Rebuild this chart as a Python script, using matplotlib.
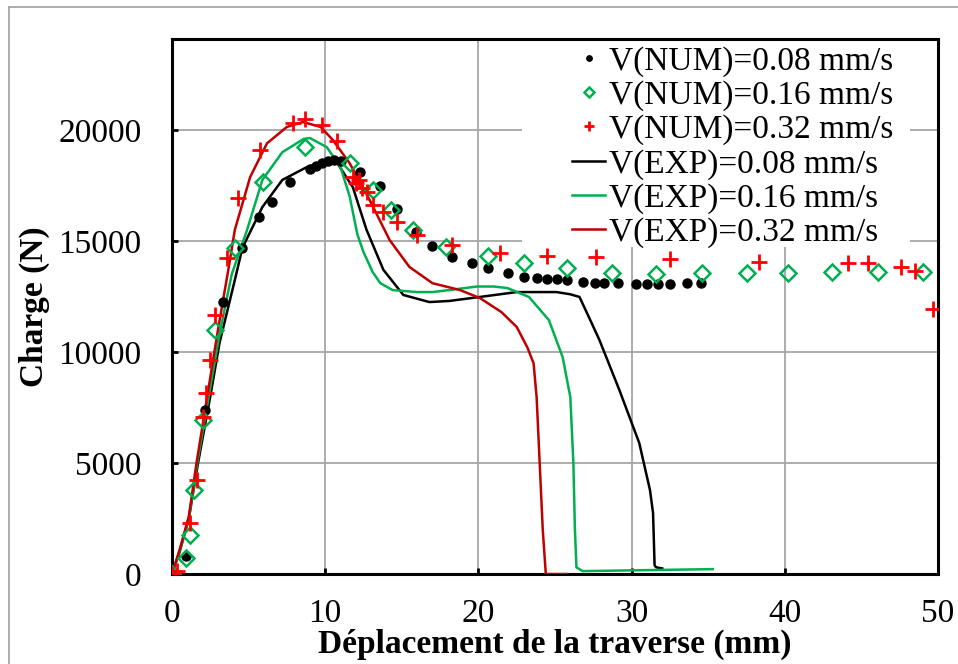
import matplotlib
matplotlib.use("Agg")
import matplotlib.pyplot as plt
from matplotlib.patches import Rectangle
from matplotlib.lines import Line2D

plt.rcParams['font.family'] = ['Liberation Serif', 'DejaVu Serif']

# ---------------- data ----------------
num008_x = [0, 0.9, 2.15, 3.3, 4.6, 5.7, 6.5, 7.7, 9.0, 9.4, 9.8, 10.2, 10.6, 11.0,
            12.3, 13.6, 14.7, 15.9, 17.0, 18.3, 19.6, 20.6, 21.9, 23.0, 23.8, 24.5,
            25.1, 25.8, 26.8, 27.6, 28.2, 29.1, 30.3, 31.0, 31.7, 32.5, 33.6, 34.5]
num008_y = [0, 810, 7390, 12250, 14680, 16080, 16760, 17650, 18240, 18400, 18500, 18600,
            18650, 18600, 18100, 17480, 16440, 15400, 14770, 14280, 14000, 13780, 13560,
            13380, 13330, 13300, 13300, 13250, 13170, 13130, 13110, 13110, 13060, 13060,
            13080, 13080, 13100, 13100]

num016_x = [0, 0.9, 1.15, 1.45, 2.0, 2.8, 4.1, 5.95, 8.7, 11.6, 13.1, 14.3, 15.7, 17.9,
            20.6, 23.0, 25.8, 28.7, 31.6, 34.6, 37.5, 40.2, 43.1, 46.1, 49.0]
num016_y = [0, 700, 1750, 3780, 6940, 10990, 14680, 17650, 19240, 18500, 17300, 16400,
            15500, 14730, 14320, 14000, 13780, 13560, 13500, 13560, 13560, 13560, 13600,
            13600, 13600]

num032_x = [0, 0.35, 1.2, 1.6, 2.0, 2.2, 2.5, 2.8, 3.6, 4.3, 5.74, 7.9, 8.7, 9.8, 10.8,
            11.8, 12.0, 12.2, 12.4, 12.7, 13.1, 13.8, 14.7, 16.0, 18.3, 21.4, 24.5, 27.7,
            32.5, 38.3, 44.1, 45.4, 47.6, 48.5, 49.7]
num032_y = [0, 150, 2300, 4230, 7070, 8150, 9640, 11670, 14230, 16930, 19100, 20320,
            20500, 20220, 19500, 17900, 17600, 17750, 17400, 17200, 16620, 16300, 15850,
            15270, 14820, 14450, 14320, 14280, 14190, 14050, 14000, 14000, 13830, 13650,
            11940]

exp008_x = [0, 0.5, 1.1, 1.7, 2.5, 3.1, 4.1, 4.6, 5.9, 7.2, 8.8, 9.9, 10.8, 11.8, 12.7,
            13.8, 15.1, 16.8, 18.1, 20.1, 22.5, 25.1, 26.0, 26.6, 27.3, 27.9, 29.2, 30.5,
            31.2, 31.4, 31.5, 31.6, 32.0]
exp008_y = [0, 1000, 2500, 5000, 8000, 10400, 13240, 14700, 16530, 17750, 18330, 18560,
            18500, 17430, 15500, 13700, 12570, 12250, 12300, 12480, 12700, 12700, 12600,
            12480, 11440, 10540, 8290, 5900, 3780, 2750, 400, 300, 250]

exp016_x = [0, 0.5, 1.1, 1.65, 2.4, 3.1, 3.9, 4.9, 5.9, 7.2, 8.6, 9.0, 10.1, 11.0, 11.6,
            12.1, 12.5, 13.1, 13.6, 14.4, 16.0, 17.0, 18.1, 19.9, 21.0, 21.9, 23.3, 24.6,
            25.5, 26.0, 26.2, 26.3, 26.4, 26.8, 35.3]
exp016_y = [0, 1050, 2500, 5000, 8000, 10800, 13500, 15500, 17750, 19000, 19600, 19640,
            19230, 18330, 17000, 15300, 14500, 13600, 13100, 12790, 12700, 12700, 12790,
            12950, 12950, 12880, 12480, 11440, 9770, 7970, 5000, 2000, 300, 130, 220]

exp032_x = [0, 0.5, 1.1, 1.6, 2.3, 3.0, 3.7, 4.1, 5.1, 6.2, 7.5, 8.55, 9.7, 10.5, 11.6,
            12.9, 14.2, 15.5, 17.0, 18.8, 20.1, 21.5, 22.5, 23.2, 23.6, 23.8, 24.0, 24.2,
            24.4, 25.8]
exp032_y = [0, 1100, 2600, 5000, 8000, 11000, 13800, 15500, 17880, 19400, 20140, 20360,
            20140, 19550, 18500, 16850, 15050, 13830, 13100, 12790, 12430, 11800, 11130,
            10200, 9500, 7970, 5000, 2000, 0, 0]

labels = ["V(NUM)=0.08 mm/s", "V(NUM)=0.16 mm/s", "V(NUM)=0.32 mm/s",
          "V(EXP)=0.08 mm/s", "V(EXP)=0.16 mm/s", "V(EXP)=0.32 mm/s"]
x_ticks = [0, 10, 20, 30, 40, 50]
y_ticks = [0, 5000, 10000, 15000, 20000]
x_label = "Déplacement de la traverse (mm)"
y_label = "Charge (N)"

# ---------------- figure ----------------
W, H = 958, 664
FS = 24
fig = plt.figure(figsize=(W / 100, H / 100), dpi=100)
ax = fig.add_axes([172 / W, 1 - 574 / H, (938 - 172) / W, (574 - 39) / H])

GREEN = "#00B050"
RED = "#FF0000"
DARKRED = "#C00000"

ax.plot(exp008_x, exp008_y, color="black", lw=1.8, zorder=3, label=labels[3])
ax.plot(exp016_x, exp016_y, color=GREEN, lw=1.8, zorder=3, label=labels[4])
ax.plot(exp032_x, exp032_y, color=DARKRED, lw=1.8, zorder=3, label=labels[5])

ax.plot(num008_x, num008_y, ls="none", marker="o", ms=6.5, color="black", zorder=4,
        label=labels[0])
ax.plot(num016_x, num016_y, ls="none", marker="D", ms=8, mfc="none", mec=GREEN,
        mew=1.8, zorder=4, label=labels[1])
ax.plot(num032_x, num032_y, ls="none", marker="+", ms=12, mec=RED, mew=2.0, zorder=5,
        label=labels[2])

ax.set_xlim(0, 50)
ax.set_ylim(0, 24100)
ax.set_xticks(x_ticks)
ax.set_yticks(y_ticks)
ax.set_xticklabels([str(v) for v in x_ticks])
ax.set_yticklabels([str(v) for v in y_ticks])
ax.grid(True, color="#A6A6A6", lw=1.3, zorder=1)
ax.set_axisbelow(True)

for s in ax.spines.values():
    s.set_linewidth(2.2)
    s.set_color("black")
ax.tick_params(axis="both", direction="in", length=4, width=2, labelsize=FS, pad=22,
               colors="black")
ax.tick_params(axis="x", pad=18)

# white area behind the legend (hides grid lines)
ax.add_patch(Rectangle((0.457, 0.611), 0.506, 0.389, transform=ax.transAxes,
                       facecolor="white", edgecolor="none", zorder=2))

ax.set_xlabel(x_label, fontsize=FS, fontweight="bold")
ax.xaxis.set_label_coords(0.5, -0.132)
ax.xaxis.label.set_va("center")
ax.set_ylabel(y_label, fontsize=FS, fontweight="bold")
ax.yaxis.set_label_coords(-0.180, 0.5)
ax.yaxis.label.set_va("center")

handles, labs = ax.get_legend_handles_labels()
order = [3, 4, 5, 0, 1, 2]
handles = [handles[i] for i in order]
labs = [labs[i] for i in order]
leg = ax.legend(handles, labs, loc="upper left", bbox_to_anchor=(0.522, 0.987),
                frameon=False, fontsize=FS, borderpad=0, borderaxespad=0,
                handlelength=1.0, handletextpad=0.12, labelspacing=0.105,
                markerscale=0.6)
leg.set_zorder(6)

# chart-area border (top and left visible)
fig.add_artist(Line2D([9 / W, 1], [1 - 7 / H, 1 - 7 / H], transform=fig.transFigure,
                      color="#A0A0A0", lw=1.2))
fig.add_artist(Line2D([9 / W, 9 / W], [0, 1 - 7 / H], transform=fig.transFigure,
                      color="#A0A0A0", lw=1.2))

fig.savefig("out.png", dpi=100, facecolor="white")
